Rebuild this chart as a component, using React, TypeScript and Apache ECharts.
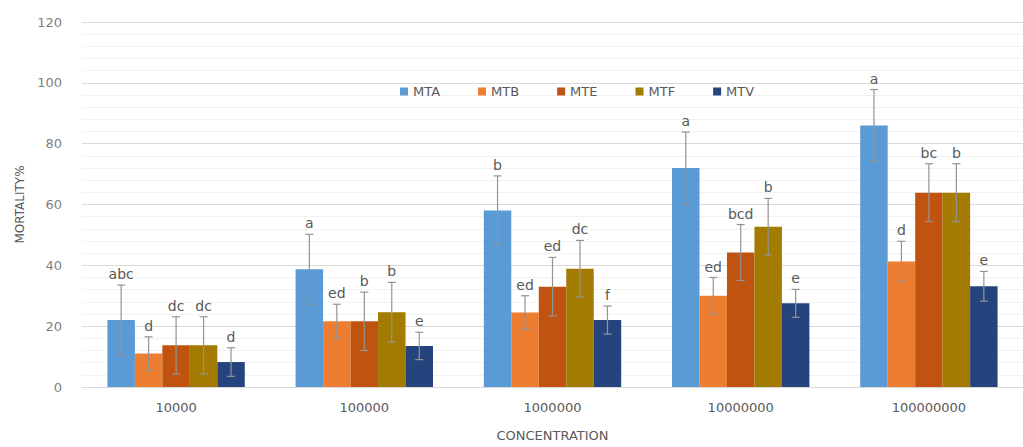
import React, { useEffect, useRef } from "react";
import * as echarts from "echarts";

const categories = ["10000", "100000", "1000000", "10000000", "100000000"];
const seriesNames = ["MTA", "MTB", "MTE", "MTF", "MTV"];
const colors = ["#5B9BD5", "#ED7D31", "#C0530F", "#A27B00", "#25447E"];

const mtaValues = [22, 38.7, 58, 72, 86];
const mtbValues = [11, 21.6, 24.5, 30, 41.3];
const mteValues = [13.7, 21.6, 33, 44.2, 63.9];
const mtfValues = [13.7, 24.6, 38.9, 52.7, 63.9];
const mtvValues = [8.2, 13.5, 22, 27.5, 33.1];

const mtaErrors = [11.5, 11.5, 11.4, 11.8, 11.8];
const mtbErrors = [5.5, 5.6, 5.5, 6, 6.6];
const mteErrors = [9.4, 9.6, 9.6, 9.2, 9.5];
const mtfErrors = [9.4, 9.8, 9.3, 9.3, 9.5];
const mtvErrors = [4.7, 4.5, 4.6, 4.6, 4.9];

const mtaLetters = ["abc", "a", "b", "a", "a"];
const mtbLetters = ["d", "ed", "ed", "ed", "d"];
const mteLetters = ["dc", "b", "ed", "bcd", "bc"];
const mtfLetters = ["dc", "b", "dc", "b", "b"];
const mtvLetters = ["d", "e", "f", "e", "e"];

const yTicks = [0, 20, 40, 60, 80, 100, 120];

const allValues = [mtaValues, mtbValues, mteValues, mtfValues, mtvValues];
const allErrors = [mtaErrors, mtbErrors, mteErrors, mtfErrors, mtvErrors];
const allLetters = [mtaLetters, mtbLetters, mteLetters, mtfLetters, mtvLetters];

const FONT = "DejaVu Sans";
const CAT_GAP = 0.27;

export default function App() {
  const ref = useRef<HTMLDivElement>(null);

  useEffect(() => {
    if (!ref.current) return;
    const chart = echarts.init(ref.current, undefined, { renderer: "svg" });

    const barSeries = seriesNames.map((name, i) => ({
      name,
      type: "bar",
      data: allValues[i],
      itemStyle: { color: colors[i] },
      barGap: "0%",
      barCategoryGap: CAT_GAP * 100 + "%",
      z: 2,
    }));

    const errSeries = seriesNames.map((name, i) => ({
      name: name + "-err",
      type: "custom",
      z: 4,
      silent: true,
      encode: { x: 0, y: 1 },
      data: allValues[i].map((v, k) => [k, v, allErrors[i][k]]),
      renderItem: (params: any, api: any) => {
        const c = api.value(0);
        const v = api.value(1);
        const e = api.value(2);
        const band = api.size([1, 0])[0];
        const bw = (band * (1 - CAT_GAP)) / seriesNames.length;
        const cx = api.coord([c, 0])[0] + (i - 2) * bw;
        const yt = api.coord([c, v + e])[1];
        const yb = api.coord([c, v - e])[1];
        const stroke = { stroke: "#949494", lineWidth: 1.2 };
        const cap = 4;
        return {
          type: "group",
          children: [
            { type: "line", shape: { x1: cx, y1: yt, x2: cx, y2: yb }, style: stroke },
            { type: "line", shape: { x1: cx - cap, y1: yt, x2: cx + cap, y2: yt }, style: stroke },
            { type: "line", shape: { x1: cx - cap, y1: yb, x2: cx + cap, y2: yb }, style: stroke },
            {
              type: "text",
              x: cx,
              y: yt - 4,
              style: {
                text: allLetters[i][params.dataIndex],
                fill: "#595959",
                font: `14px "${FONT}"`,
                textAlign: "center",
                textVerticalAlign: "bottom",
              },
            },
          ],
        };
      },
    }));

    chart.setOption({
      animation: false,
      backgroundColor: "#ffffff",
      textStyle: { fontFamily: FONT },
      legend: {
        data: seriesNames,
        left: 395,
        top: 80,
        icon: "rect",
        itemWidth: 8,
        itemHeight: 8,
        itemGap: 38,
        textStyle: { color: "#595959", fontSize: 13, fontFamily: FONT },
      },
      grid: { left: 82, top: 22, width: 950, height: 366 },
      xAxis: {
        type: "category",
        data: categories,
        name: "CONCENTRATION",
        nameLocation: "middle",
        nameGap: 42,
        nameTextStyle: { color: "#595959", fontSize: 13, fontFamily: FONT },
        axisLine: { show: true, lineStyle: { color: "#D9D9D9" } },
        axisTick: { show: false },
        axisLabel: { color: "#595959", fontSize: 13, margin: 14, fontFamily: FONT },
      },
      yAxis: {
        type: "value",
        min: yTicks[0],
        max: yTicks[yTicks.length - 1],
        interval: yTicks[1] - yTicks[0],
        name: "MORTALITY%",
        nameLocation: "middle",
        nameGap: 56,
        nameTextStyle: { color: "#595959", fontSize: 12, fontFamily: FONT },
        axisLine: { show: false },
        axisTick: { show: false },
        axisLabel: { color: "#7F7F7F", fontSize: 13, margin: 20, fontFamily: FONT },
        splitLine: { lineStyle: { color: "#D9D9D9" } },
        minorTick: { show: false, splitNumber: 5 },
        minorSplitLine: { show: true, lineStyle: { color: "#F2F2F2" } },
      },
      series: [...barSeries, ...errSeries],
    });

    return () => chart.dispose();
  }, []);

  return (
    <div
      ref={ref}
      style={{
        position: "absolute",
        left: 0,
        top: 0,
        width: 1023,
        height: 447,
        overflow: "hidden",
      }}
    />
  );
}
